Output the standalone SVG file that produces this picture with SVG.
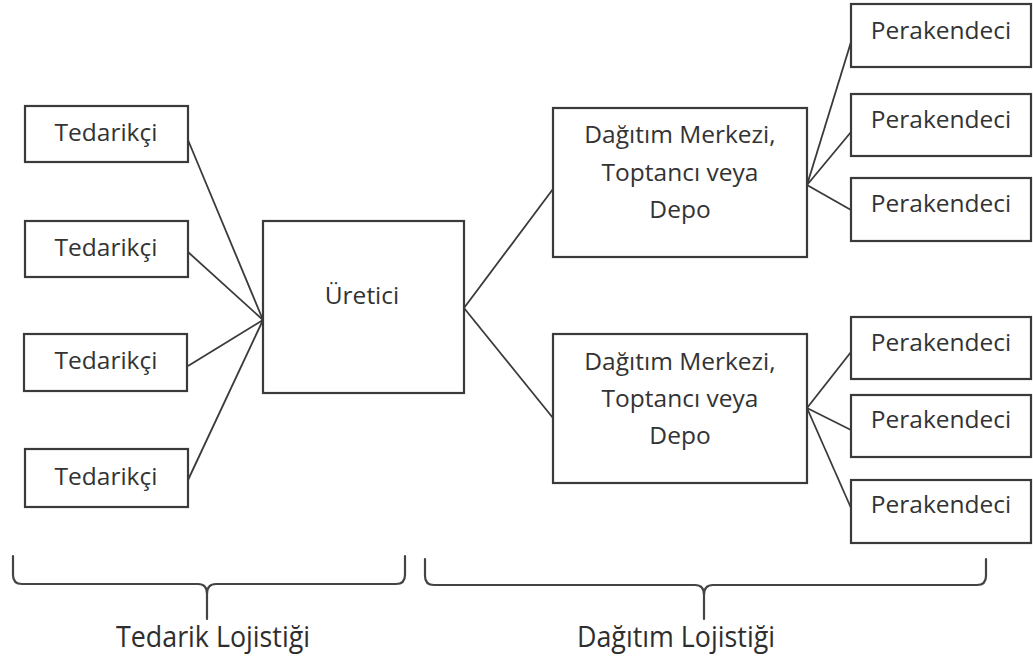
<svg xmlns="http://www.w3.org/2000/svg" width="1033" height="662" viewBox="0 0 1033 662">
  <style>
    .box { fill: #ffffff; stroke: #3a3a3a; stroke-width: 2.2; }
    .link { fill: none; stroke: #3a3a3a; stroke-width: 1.8; }
    .brace { fill: none; stroke: #444444; stroke-width: 2.2; stroke-linecap: round; }
    .lbl { font-family: "Open Sans", "Noto Sans", "DejaVu Sans", sans-serif; font-size: 24.5px; fill: #333333; text-anchor: middle; }
    .cap { font-family: "Open Sans", "Noto Sans", "DejaVu Sans", sans-serif; font-size: 29px; fill: #2e2e2e; text-anchor: middle; }
  </style>
  <rect width="1033" height="662" fill="#ffffff"/>

  <!-- connectors -->
  <g id="connectors">
    <!-- suppliers to manufacturer -->
    <line class="link" x1="188" y1="140" x2="263" y2="320"/>
    <line class="link" x1="188" y1="252" x2="263" y2="320"/>
    <line class="link" x1="188" y1="366" x2="263" y2="320"/>
    <line class="link" x1="188" y1="480" x2="263" y2="320"/>
    <!-- manufacturer to distribution centres -->
    <line class="link" x1="464" y1="308" x2="553" y2="189"/>
    <line class="link" x1="464" y1="308" x2="553" y2="418"/>
    <!-- distribution centre 1 to retailers -->
    <line class="link" x1="807" y1="185" x2="851" y2="42"/>
    <line class="link" x1="807" y1="185" x2="851" y2="132"/>
    <line class="link" x1="807" y1="185" x2="851" y2="210"/>
    <!-- distribution centre 2 to retailers -->
    <line class="link" x1="807" y1="408" x2="851" y2="352"/>
    <line class="link" x1="807" y1="408" x2="851" y2="430"/>
    <line class="link" x1="807" y1="408" x2="851" y2="508"/>
  </g>

  <!-- suppliers -->
  <g id="tedarikci-1">
    <rect class="box" x="25" y="106" width="163" height="56"/>
    <text class="lbl" x="106" y="141">Tedarikçi</text>
  </g>
  <g id="tedarikci-2">
    <rect class="box" x="25" y="221" width="163" height="56"/>
    <text class="lbl" x="106" y="256">Tedarikçi</text>
  </g>
  <g id="tedarikci-3">
    <rect class="box" x="24" y="334" width="163" height="57"/>
    <text class="lbl" x="106" y="369">Tedarikçi</text>
  </g>
  <g id="tedarikci-4">
    <rect class="box" x="25" y="449" width="163" height="58"/>
    <text class="lbl" x="106" y="485">Tedarikçi</text>
  </g>

  <!-- manufacturer -->
  <g id="uretici">
    <rect class="box" x="263" y="221" width="201" height="172"/>
    <text class="lbl" x="362" y="304">Üretici</text>
  </g>

  <!-- distribution centres -->
  <g id="dagitim-1">
    <rect class="box" x="553" y="108" width="254" height="149"/>
    <text class="lbl" x="680" y="143">Dağıtım Merkezi,</text>
    <text class="lbl" x="680" y="181">Toptancı veya</text>
    <text class="lbl" x="680" y="218">Depo</text>
  </g>
  <g id="dagitim-2">
    <rect class="box" x="553" y="334" width="254" height="149"/>
    <text class="lbl" x="680" y="370">Dağıtım Merkezi,</text>
    <text class="lbl" x="680" y="407">Toptancı veya</text>
    <text class="lbl" x="680" y="444">Depo</text>
  </g>

  <!-- retailers -->
  <g id="perakendeci-1">
    <rect class="box" x="851" y="4" width="180" height="63"/>
    <text class="lbl" x="941" y="39">Perakendeci</text>
  </g>
  <g id="perakendeci-2">
    <rect class="box" x="851" y="94" width="180" height="62"/>
    <text class="lbl" x="941" y="128">Perakendeci</text>
  </g>
  <g id="perakendeci-3">
    <rect class="box" x="851" y="178" width="180" height="63"/>
    <text class="lbl" x="941" y="212">Perakendeci</text>
  </g>
  <g id="perakendeci-4">
    <rect class="box" x="851" y="317" width="180" height="62"/>
    <text class="lbl" x="941" y="351">Perakendeci</text>
  </g>
  <g id="perakendeci-5">
    <rect class="box" x="851" y="395" width="180" height="62"/>
    <text class="lbl" x="941" y="428">Perakendeci</text>
  </g>
  <g id="perakendeci-6">
    <rect class="box" x="851" y="480" width="180" height="63"/>
    <text class="lbl" x="941" y="513">Perakendeci</text>
  </g>

  <!-- braces and section captions -->
  <g id="tedarik-lojistigi">
    <path class="brace" d="M13 556 L13 575 Q13 584 22 584 L198 584 Q207 584 207 594 L207 619 M207 594 Q207 584 216 584 L396 584 Q405 584 405 575 L405 556"/>
    <text class="cap" x="213" y="647" textLength="194" lengthAdjust="spacingAndGlyphs">Tedarik Lojistiği</text>
  </g>
  <g id="dagitim-lojistigi">
    <path class="brace" d="M425 559 L425 576 Q425 585 434 585 L695 585 Q704 585 704 595 L704 619 M704 595 Q704 585 713 585 L977 585 Q986 585 986 576 L986 559"/>
    <text class="cap" x="676" y="647" textLength="198" lengthAdjust="spacingAndGlyphs">Dağıtım Lojistiği</text>
  </g>
</svg>
